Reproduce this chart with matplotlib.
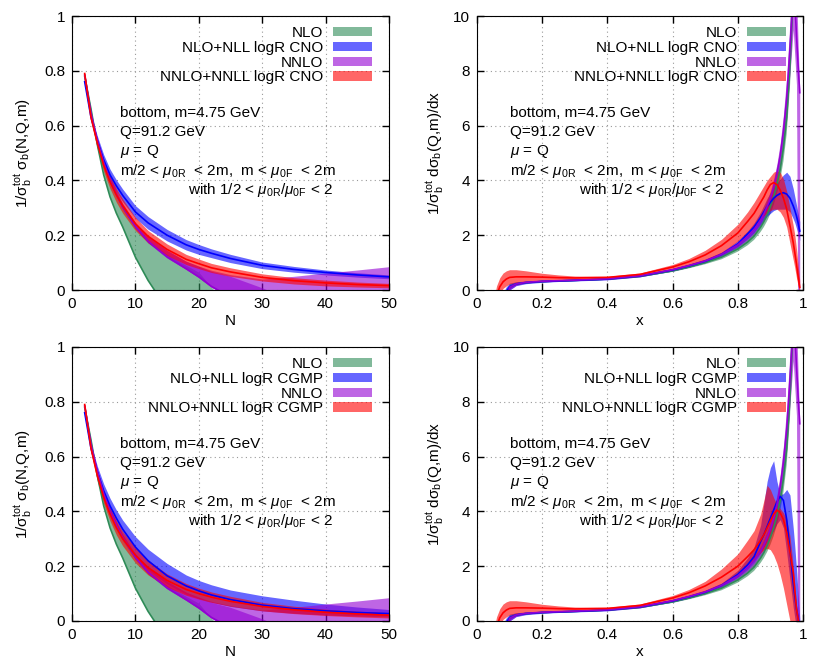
import numpy as np
import matplotlib
matplotlib.use("Agg")
import matplotlib.pyplot as plt
from matplotlib.patches import Patch

plt.rcParams['font.family'] = ['Liberation Sans', 'DejaVu Sans']
plt.rcParams['mathtext.fontset'] = 'custom'
plt.rcParams['mathtext.rm'] = 'Liberation Sans'
plt.rcParams['mathtext.it'] = 'Liberation Sans:italic'
plt.rcParams['font.size'] = 11

# ---------------- N-space (moments), shared grid ----------------
N = [2, 3, 4, 5, 6, 7, 8, 10, 12, 15, 18, 20, 22, 25, 30, 35, 40, 45, 50]

nlo_N_lo = [0.78, 0.66, 0.53, 0.42, 0.34, 0.28, 0.23, 0.12, 0.035, -0.07, -0.15, -0.2, -0.25, -0.3, -0.4, -0.5, -0.6, -0.7, -0.8]
nlo_N_hi = [0.785, 0.64, 0.54, 0.46, 0.4, 0.35, 0.31, 0.23, 0.18, 0.13, 0.09, 0.065, 0.01, -0.06, -0.15, -0.25, -0.35, -0.45, -0.55]

nnlo_N_lo = [0.78, 0.64, 0.54, 0.46, 0.39, 0.34, 0.295, 0.225, 0.172, 0.117, 0.075, 0.045, 0.01, -0.03, -0.08, -0.13, -0.18, -0.23, -0.28]
nnlo_N_mid = [0.785, 0.645, 0.545, 0.465, 0.4, 0.348, 0.303, 0.232, 0.178, 0.121, 0.078, 0.048, 0.013, -0.025, -0.075, -0.125, -0.175, -0.225, -0.275]
nnlo_N_hi = [0.79, 0.645, 0.55, 0.47, 0.41, 0.36, 0.315, 0.245, 0.195, 0.145, 0.105, 0.087, 0.072, 0.056, 0.04, 0.05, 0.062, 0.073, 0.085]
nnlo_N_hi2 = [0.79, 0.645, 0.55, 0.47, 0.41, 0.36, 0.315, 0.245, 0.195, 0.145, 0.105, 0.087, 0.068, 0.05, 0.008, -0.04, -0.09, -0.14, -0.19]

# CNO
blue_N_cno = [0.76, 0.63, 0.545, 0.475, 0.42, 0.38, 0.345, 0.285, 0.245, 0.2, 0.165, 0.148, 0.134, 0.115, 0.09, 0.075, 0.064, 0.055, 0.048]
blue_N_cno_lo = [0.755, 0.618, 0.528, 0.456, 0.399, 0.358, 0.322, 0.262, 0.222, 0.179, 0.146, 0.13, 0.118, 0.1, 0.078, 0.065, 0.055, 0.047, 0.041]
blue_N_cno_hi = [0.765, 0.642, 0.562, 0.494, 0.441, 0.402, 0.368, 0.308, 0.268, 0.221, 0.184, 0.166, 0.15, 0.13, 0.102, 0.086, 0.073, 0.063, 0.055]
red_N_cno = [0.79, 0.63, 0.535, 0.455, 0.395, 0.347, 0.307, 0.242, 0.196, 0.148, 0.112, 0.096, 0.081, 0.066, 0.046, 0.034, 0.026, 0.02, 0.016]
red_N_cno_lo = [0.785, 0.618, 0.515, 0.432, 0.37, 0.32, 0.28, 0.217, 0.172, 0.126, 0.093, 0.078, 0.064, 0.05, 0.033, 0.022, 0.015, 0.011, 0.008]
red_N_cno_hi = [0.795, 0.642, 0.552, 0.475, 0.417, 0.37, 0.332, 0.265, 0.217, 0.168, 0.13, 0.113, 0.097, 0.081, 0.059, 0.045, 0.036, 0.029, 0.024]

# CGMP
blue_N_cg = [0.76, 0.63, 0.545, 0.475, 0.42, 0.375, 0.335, 0.27, 0.22, 0.165, 0.128, 0.11, 0.095, 0.078, 0.058, 0.045, 0.037, 0.031, 0.027]
blue_N_cg_lo = [0.755, 0.615, 0.525, 0.45, 0.39, 0.343, 0.302, 0.235, 0.186, 0.135, 0.098, 0.082, 0.068, 0.053, 0.037, 0.028, 0.022, 0.018, 0.015]
blue_N_cg_hi = [0.765, 0.645, 0.565, 0.5, 0.448, 0.405, 0.368, 0.308, 0.262, 0.21, 0.168, 0.148, 0.132, 0.113, 0.092, 0.076, 0.062, 0.051, 0.042]
red_N_cg = [0.79, 0.63, 0.53, 0.45, 0.39, 0.34, 0.3, 0.24, 0.195, 0.148, 0.115, 0.1, 0.087, 0.072, 0.053, 0.041, 0.032, 0.026, 0.021]
red_N_cg_lo = [0.785, 0.615, 0.51, 0.428, 0.365, 0.314, 0.274, 0.212, 0.168, 0.124, 0.094, 0.08, 0.068, 0.054, 0.037, 0.027, 0.02, 0.015, 0.011]
red_N_cg_hi = [0.795, 0.645, 0.55, 0.472, 0.413, 0.366, 0.327, 0.268, 0.222, 0.172, 0.137, 0.12, 0.106, 0.09, 0.068, 0.054, 0.043, 0.036, 0.03]

# ---------------- x-space (spectra), shared grid ----------------
X = [0.05, 0.06, 0.07, 0.08, 0.09, 0.1, 0.12, 0.15, 0.2, 0.25, 0.3, 0.4, 0.5, 0.6, 0.65, 0.7, 0.75, 0.8,
     0.83, 0.85, 0.87, 0.88, 0.89, 0.9, 0.91, 0.92, 0.93, 0.94, 0.95, 0.96, 0.97, 0.975, 0.98, 0.985, 0.99]

nlo_x = [-5, -4, -3, -2, -0.5, 0.12, 0.22, 0.27, 0.31, 0.33, 0.35, 0.4, 0.5, 0.7, 0.84, 1.0, 1.2, 1.5,
         1.75, 1.97, 2.3, 2.5, 2.75, 3.05, 3.4, 3.85, 4.4, 5.2, 6.3, 8.2, 11.0, 12.5, 14, 16, 19]
nlo_x_lo = [-6, -5, -4, -2.5, -0.8, 0.02, 0.17, 0.24, 0.28, 0.31, 0.33, 0.37, 0.47, 0.66, 0.79, 0.94, 1.12, 1.4,
            1.63, 1.83, 2.12, 2.3, 2.52, 2.78, 3.1, 3.5, 4.0, 4.7, 5.7, 7.4, 10.0, 11.5, 13, 15, 17]
nlo_x_hi = [-4, -3, -2, -1.5, -0.2, 0.2, 0.27, 0.3, 0.34, 0.36, 0.38, 0.43, 0.54, 0.75, 0.9, 1.07, 1.29, 1.62,
            1.9, 2.13, 2.5, 2.72, 3.0, 3.33, 3.72, 4.22, 4.82, 5.7, 6.9, 9.2, 12.5, 14, 16, 19, 22]

nnlo_x = [-5, -4, -3, -2, -0.6, 0.1, 0.22, 0.28, 0.32, 0.34, 0.36, 0.41, 0.52, 0.74, 0.89, 1.06, 1.3, 1.65,
          1.95, 2.2, 2.55, 2.78, 3.05, 3.35, 3.75, 4.25, 4.9, 5.8, 7.0, 8.8, 10.8, 10.5, 9.3, 8.2, 7.2]
nnlo_x_lo = [-6, -5, -4, -2.5, -0.9, 0.0, 0.17, 0.25, 0.29, 0.32, 0.34, 0.38, 0.48, 0.7, 0.84, 1.0, 1.22, 1.55,
             1.82, 2.05, 2.38, 2.58, 2.82, 3.1, 3.45, 3.9, 4.45, 5.25, 6.3, 7.9, 9.5, 8.5, 7.5, -3, -3]
nnlo_x_hi = [-4, -3, -2, -1.5, -0.3, 0.2, 0.28, 0.31, 0.35, 0.37, 0.39, 0.44, 0.56, 0.79, 0.95, 1.13, 1.38, 1.76,
             2.08, 2.36, 2.73, 2.98, 3.28, 3.62, 4.05, 4.6, 5.35, 6.4, 7.8, 9.8, 12.0, 12.0, 11.0, 9.0, 7.3]

# CNO
blue_x_cno = [-3, -2, -1.2, -0.5, -0.05, 0.12, 0.22, 0.27, 0.31, 0.33, 0.35, 0.4, 0.51, 0.73, 0.88, 1.05, 1.3, 1.68,
              2.05, 2.3, 2.65, 2.85, 3.05, 3.2, 3.35, 3.45, 3.52, 3.55, 3.5, 3.35, 3.07, 2.9, 2.7, 2.45, 2.15]
blue_x_cno_lo = [-4, -3, -2, -1, -0.3, 0.0, 0.16, 0.23, 0.28, 0.31, 0.33, 0.37, 0.48, 0.69, 0.83, 1.0, 1.24, 1.58,
                 1.88, 2.1, 2.4, 2.55, 2.7, 2.8, 2.9, 2.95, 2.95, 2.95, 2.95, 2.85, 2.6, 2.45, 2.25, 2.05, 1.8]
blue_x_cno_hi = [-2, -1, -0.5, -0.1, 0.12, 0.25, 0.3, 0.33, 0.35, 0.36, 0.38, 0.43, 0.55, 0.78, 0.94, 1.12, 1.38, 1.8,
                 2.15, 2.45, 2.85, 3.1, 3.35, 3.55, 3.75, 3.9, 4.05, 4.2, 4.3, 4.15, 3.7, 3.4, 3.1, 2.8, 2.5]
red_x_cno = [-1, -0.2, 0.12, 0.3, 0.4, 0.46, 0.48, 0.48, 0.47, 0.45, 0.44, 0.46, 0.57, 0.84, 1.03, 1.28, 1.62, 2.08,
             2.5, 2.8, 3.2, 3.4, 3.65, 3.85, 3.92, 3.85, 3.65, 3.35, 2.95, 2.35, 1.73, 1.35, 0.95, 0.5, 0.1]
red_x_cno_lo = [-1.5, -0.6, -0.15, 0.06, 0.15, 0.22, 0.27, 0.31, 0.33, 0.35, 0.36, 0.4, 0.5, 0.74, 0.9, 1.08, 1.35, 1.78,
                2.1, 2.35, 2.6, 2.72, 2.82, 2.9, 2.95, 2.95, 2.85, 2.65, 2.3, 1.7, 1.1, 0.8, 0.45, 0.15, -0.1]
red_x_cno_hi = [-0.4, 0.15, 0.45, 0.62, 0.7, 0.74, 0.74, 0.7, 0.61, 0.55, 0.51, 0.5, 0.62, 0.93, 1.15, 1.45, 1.85, 2.4,
                2.85, 3.2, 3.6, 3.8, 4.0, 4.15, 4.3, 4.35, 4.3, 4.05, 3.6, 3.0, 2.35, 2.0, 1.5, 0.9, 0.35]

# CGMP
blue_x_cg = [-3, -2, -1.2, -0.5, -0.05, 0.12, 0.22, 0.27, 0.31, 0.33, 0.35, 0.4, 0.51, 0.73, 0.88, 1.05, 1.3, 1.7,
             2.05, 2.35, 2.9, 3.15, 3.45, 3.75, 4.05, 4.35, 4.55, 4.4, 3.7, 2.6, 1.4, 0.9, 0.45, 0.1, -0.2]
blue_x_cg_lo = [-4, -3, -2, -1, -0.3, 0.0, 0.16, 0.23, 0.28, 0.31, 0.33, 0.37, 0.48, 0.69, 0.83, 1.0, 1.24, 1.6,
                1.9, 2.15, 2.5, 2.7, 2.9, 3.1, 3.3, 3.55, 3.7, 3.4, 2.5, 1.5, 0.5, 0.1, -0.3, -0.5, -0.5]
blue_x_cg_hi = [-2, -1, -0.5, -0.1, 0.12, 0.25, 0.3, 0.33, 0.35, 0.36, 0.38, 0.43, 0.55, 0.78, 0.94, 1.12, 1.38, 1.85,
                2.3, 2.7, 3.5, 4.3, 5.1, 5.6, 5.85, 5.1, 4.6, 4.65, 4.8, 4.6, 3.4, 2.7, 1.9, 1.0, 0.1]
red_x_cg = [-1, -0.2, 0.12, 0.3, 0.4, 0.46, 0.48, 0.48, 0.47, 0.45, 0.44, 0.46, 0.57, 0.84, 1.03, 1.28, 1.6, 2.0,
            2.35, 2.6, 2.95, 3.15, 3.4, 3.65, 3.9, 4.05, 3.95, 3.7, 3.23, 2.5, 1.77, 1.1, 0.45, 0.08, -0.3]
red_x_cg_lo = [-1.5, -0.6, -0.15, 0.06, 0.15, 0.22, 0.27, 0.31, 0.33, 0.35, 0.36, 0.4, 0.5, 0.74, 0.9, 1.08, 1.32, 1.75,
               2.05, 2.25, 2.5, 2.6, 2.65, 2.6, 2.4, 2.1, 1.7, 1.2, 0.6, 0.0, -0.5, -0.5, -0.5, -0.5, -0.5]
red_x_cg_hi = [-0.4, 0.15, 0.45, 0.62, 0.7, 0.74, 0.74, 0.7, 0.61, 0.55, 0.51, 0.5, 0.62, 0.93, 1.15, 1.45, 1.9, 2.45,
               2.95, 3.3, 3.9, 4.4, 4.95, 4.8, 4.5, 4.25, 4.1, 3.95, 3.7, 3.1, 2.0, 1.3, 0.6, 0.1, -0.3]

GREEN, BLUE, PURPLE, RED = '#2e8b57', '#0000ff', '#9400d3', '#ff0000'
ALPHA = 0.6

info_lines = ['bottom, m=4.75 GeV',
              'Q=91.2 GeV',
              r'$\mu$ = Q',
              r'm/2 < $\mu_{\rm 0R}$  < 2m,  m < $\mu_{\rm 0F}$  < 2m']
info_last = r'with 1/2 < $\mu_{\rm 0R}$/$\mu_{\rm 0F}$ < 2'


def draw(ax, xs, series, extra=None):
    for lo, hi, mid, col in series:
        ax.fill_between(xs, lo, hi, color=col, alpha=ALPHA, lw=0)
        if extra is not None and col == PURPLE:
            ax.fill_between(xs, extra[0], extra[1], color=col, alpha=ALPHA, lw=0)
        ax.plot(xs, mid, color=col, lw=1.2)


def style(ax, kind, scheme, tx, tx_last):
    ax.tick_params(direction='in', top=True, right=True, length=5, width=1, pad=5)
    ax.grid(True, linestyle=(0, (1, 3)), color='#999999', lw=0.8)
    ax.set_axisbelow(True)
    if kind == 'N':
        ax.set_xlim(0, 50)
        ax.set_ylim(0, 1)
        ax.set_xticks([0, 10, 20, 30, 40, 50])
        ax.set_yticks([0, 0.2, 0.4, 0.6, 0.8, 1])
        ax.set_yticklabels(['0', '0.2', '0.4', '0.6', '0.8', '1'])
        ax.set_xlabel('N', labelpad=2)
        ax.set_ylabel(r'1/σ$_{\rm b}^{\rm tot}$ σ$_{\rm b}$(N,Q,m)', labelpad=7)
    else:
        ax.set_xlim(0, 1)
        ax.set_ylim(0, 10)
        ax.set_xticks([0, 0.2, 0.4, 0.6, 0.8, 1])
        ax.set_xticklabels(['0', '0.2', '0.4', '0.6', '0.8', '1'])
        ax.set_yticks([0, 2, 4, 6, 8, 10])
        ax.set_xlabel('x', labelpad=2)
        ax.set_ylabel(r'1/σ$_{\rm b}^{\rm tot}$ dσ$_{\rm b}$(Q,m)/dx', labelpad=5)
    labels = ['NLO', 'NLO+NLL logR ' + scheme, 'NNLO', 'NNLO+NNLL logR ' + scheme]
    handles = [Patch(facecolor=c, alpha=ALPHA, edgecolor='none') for c in (GREEN, BLUE, PURPLE, RED)]
    ax.legend(handles, labels, loc='upper right', bbox_to_anchor=(0.947, 0.963),
              markerfirst=False, frameon=False, borderpad=0, borderaxespad=0,
              handlelength=2.55, handleheight=0.55, handletextpad=0.65, labelspacing=0.05)
    ys = [0.646, 0.577, 0.505, 0.434]
    for y, s in zip(ys, info_lines):
        ax.text(tx, y, s, transform=ax.transAxes, va='center', ha='left')
    ax.text(tx_last, 0.365, info_last, transform=ax.transAxes, va='center', ha='left')


fig = plt.figure(figsize=(8.3, 6.64), dpi=100)
W, H = 830, 664
ax_tl = fig.add_axes([72 / W, 1 - 290 / H, 317 / W, 274 / H])
ax_tr = fig.add_axes([477 / W, 1 - 290 / H, 326 / W, 274 / H])
ax_bl = fig.add_axes([72 / W, 1 - 621 / H, 317 / W, 274 / H])
ax_br = fig.add_axes([477 / W, 1 - 621 / H, 326 / W, 274 / H])

draw(ax_tl, N, [(nlo_N_lo, nlo_N_hi, nlo_N_lo, GREEN),
                (blue_N_cno_lo, blue_N_cno_hi, blue_N_cno, BLUE),
                (nnlo_N_lo, nnlo_N_hi, nnlo_N_mid, PURPLE),
                (red_N_cno_lo, red_N_cno_hi, red_N_cno, RED)],
     extra=(nnlo_N_lo, nnlo_N_hi2))
draw(ax_bl, N, [(nlo_N_lo, nlo_N_hi, nlo_N_lo, GREEN),
                (blue_N_cg_lo, blue_N_cg_hi, blue_N_cg, BLUE),
                (nnlo_N_lo, nnlo_N_hi, nnlo_N_mid, PURPLE),
                (red_N_cg_lo, red_N_cg_hi, red_N_cg, RED)],
     extra=(nnlo_N_lo, nnlo_N_hi2))
draw(ax_tr, X, [(nlo_x_lo, nlo_x_hi, nlo_x, GREEN),
                (blue_x_cno_lo, blue_x_cno_hi, blue_x_cno, BLUE),
                (nnlo_x_lo, nnlo_x_hi, nnlo_x, PURPLE),
                (red_x_cno_lo, red_x_cno_hi, red_x_cno, RED)])
draw(ax_br, X, [(nlo_x_lo, nlo_x_hi, nlo_x, GREEN),
                (blue_x_cg_lo, blue_x_cg_hi, blue_x_cg, BLUE),
                (nnlo_x_lo, nnlo_x_hi, nnlo_x, PURPLE),
                (red_x_cg_lo, red_x_cg_hi, red_x_cg, RED)])

style(ax_tl, 'N', 'CNO', 0.15, 0.366)
style(ax_bl, 'N', 'CGMP', 0.15, 0.366)
style(ax_tr, 'x', 'CNO', 0.101, 0.313)
style(ax_br, 'x', 'CGMP', 0.101, 0.313)

fig.savefig('out.png', dpi=100)
